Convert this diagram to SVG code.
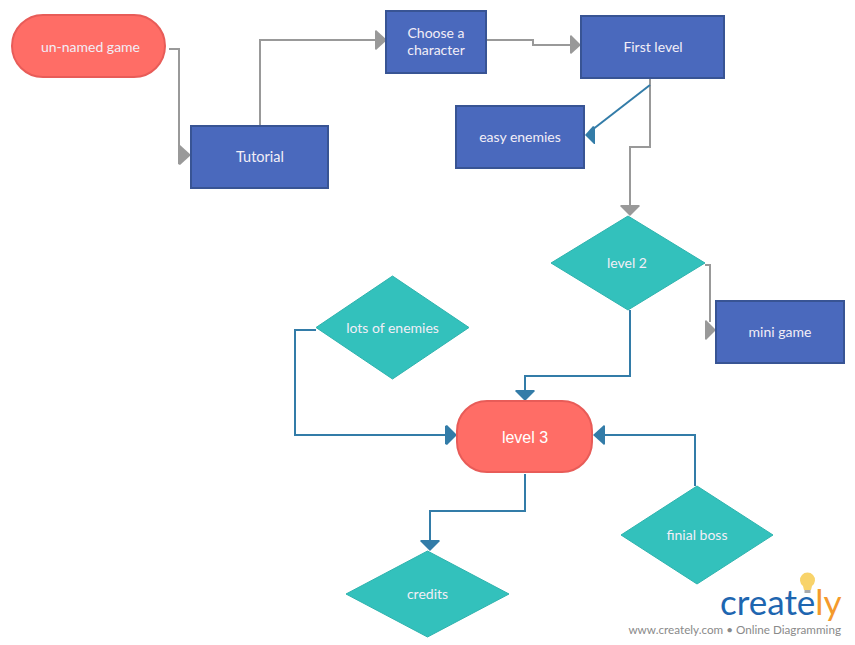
<svg xmlns="http://www.w3.org/2000/svg" width="855" height="645" viewBox="0 0 855 645">
<defs><style>
.r{fill:#4a69bd;stroke:#385494;stroke-width:2}
.p{fill:#ff6d66;stroke:#e85c58;stroke-width:2}
.d{fill:#33c1bc;stroke:#2eb3ae;stroke-width:1}
.t{font-family:Lato,"Liberation Sans",sans-serif;font-size:14px;fill:#f2eef7;text-anchor:middle}
.g{fill:none;stroke:#999;stroke-width:2}
.b{fill:none;stroke:#337ca8;stroke-width:2}
.ga{fill:#999}.ba{fill:#337ca8}
</style></defs>
<rect width="855" height="645" fill="#fff"/>
<g id="connectors">
<path class="g" d="M169 49H179V155"/><path class="ga" d="M191 155L180 145L178 146V164L180 165Z"/>
<path class="g" d="M260 126V40H376"/><path class="ga" d="M387 40L376 30L375 31V49L376 50Z"/>
<path class="g" d="M485 40H533V45H571"/><path class="ga" d="M581 45L571 35L570 36V53L571 54Z"/>
<path class="g" d="M650 79V147H630V206"/><path class="ga" d="M630 216L620 206L621 205H639L640 206Z"/>
<path class="b" d="M650 85L592 130"/><path class="ba" d="M585 135L593 126L595 127V144L594 144Z"/>
<path class="g" d="M705 265H710V322"/><path class="ga" d="M716 330L706 320L705 321V339L706 340Z"/>
<path class="b" d="M630 310V376H525V391"/><path class="ba" d="M525 401L515 391L516 390H534L535 391Z"/>
<path class="b" d="M316 330H295V435H447"/><path class="ba" d="M457 435L447 425L445 426V444L447 445Z"/>
<path class="b" d="M695 486V435H603"/><path class="ba" d="M593 435L604 425L605 426V444L604 445Z"/>
<path class="b" d="M525 474V511H430V541"/><path class="ba" d="M430 551L420 541L421 540H439L440 541Z"/>
</g>
<g id="un-named-game"><rect class="p" x="12" y="15" width="153" height="62" rx="31"/><text class="t" x="90.500" y="52">un-named game</text></g>
<g id="tutorial"><rect class="r" x="191" y="126" width="137" height="62"/><text class="t" x="260" y="162" style="font-size:14.500px">Tutorial</text></g>
<g id="choose-character"><rect class="r" x="386" y="11" width="100" height="62"/><text class="t" x="436" y="38">Choose a</text><text class="t" x="436" y="55">character</text></g>
<g id="first-level"><rect class="r" x="581" y="16" width="143" height="62"/><text class="t" x="653" y="52">First level</text></g>
<g id="easy-enemies"><rect class="r" x="456" y="106" width="128" height="62"/><text class="t" x="520" y="142">easy enemies</text></g>
<g id="level-2"><polygon class="d" points="628,216 705,263 628,310 551,263"/><text class="t" x="627" y="268">level 2</text></g>
<g id="mini-game"><rect class="r" x="716" y="301" width="128" height="62"/><text class="t" x="780" y="337">mini game</text></g>
<g id="lots-of-enemies"><polygon class="d" points="392.500,276 469,327.500 392.500,379 316,327.500"/><text class="t" x="392.500" y="333">lots of enemies</text></g>
<g id="level-3"><rect class="p" x="457" y="401" width="135" height="71" rx="30"/><text x="525" y="443" font-family="'Liberation Sans',Arial,sans-serif" font-size="16px" fill="#fff" text-anchor="middle">level 3</text></g>
<g id="finial-boss"><polygon class="d" points="697,486 773,535 697,584 621,535"/><text class="t" x="697" y="540">finial boss</text></g>
<g id="credits"><polygon class="d" points="427.500,551 509,594 427.500,637 346,594"/><text class="t" x="427.500" y="599">credits</text></g>
<g id="logo">
<path d="M803 586a7.500 7.500 0 1 1 9 0l-1 4h-7Z" fill="#f8d36a"/><rect x="804.500" y="590" width="6" height="3" fill="#aaa"/>
<text x="720" y="615" font-family="Lato,'Noto Sans',sans-serif" font-size="35px" fill="#1e66b0">create<tspan fill="#f49a2c">ly</tspan></text>
<text x="841" y="634" font-family="Lato,'Noto Sans',sans-serif" font-size="11.700px" fill="#8a8a8a" text-anchor="end">www.creately.com • Online Diagramming</text>
</g>
</svg>
